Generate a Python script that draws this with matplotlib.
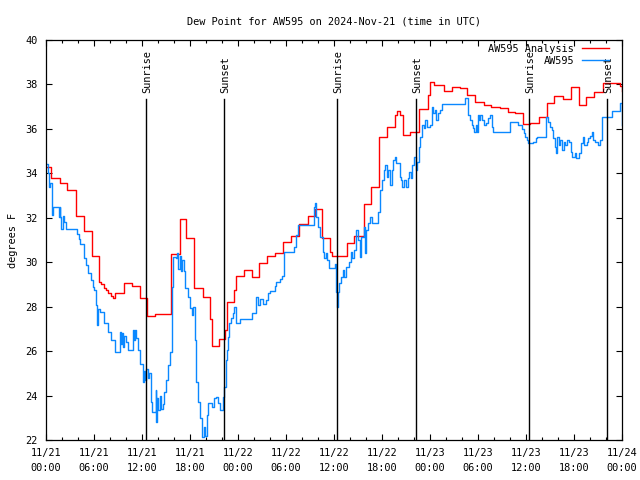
"""
Dew point chart for AW595, 2024-Nov-21 (three days, UTC)
"""

import matplotlib
matplotlib.use('Agg')
import matplotlib.pyplot as plt
from matplotlib.ticker import MultipleLocator

# analysis series: hours since 11/21 00:00 where value changes, and value (deg F)
analysis_hours = [0, 0.67, 1.7, 2.67, 3.7, 4.75, 5.7, 6.6, 6.9, 7.2, 7.5, 7.8, 8.1, 8.4,
                  8.6, 9.75, 10.7, 11.75, 12.6, 13.6, 15.6, 16.7, 17.5, 18.5, 19.6, 20.5,
                  20.8, 21.6, 22.4, 22.6, 23.5, 23.75, 24.8, 25.7, 26.6, 27.6, 28.6, 29.6,
                  30.6, 31.6, 32.7, 33.6, 34.5, 35.5, 35.8, 37.6, 38.5, 39.7, 40.6, 41.6,
                  42.6, 43.6, 43.9, 44.3, 44.6, 45.5, 46.6, 47.7, 48.0, 48.5, 49.7, 50.7,
                  51.7, 52.6, 53.6, 54.7, 55.6, 56.7, 57.7, 58.6, 59.6, 60.5, 61.6, 62.6,
                  63.5, 64.6, 65.6, 66.6, 67.5, 68.5, 69.6, 71.75, 72]
analysis_vals = [34.27, 33.78, 33.55, 33.24, 32.07, 31.39, 30.27, 29.1, 29.0, 28.85, 28.75,
                 28.6, 28.48, 28.38, 28.6, 29.05, 28.93, 28.39, 27.58, 27.65, 30.37, 31.93,
                 31.1, 28.83, 28.45, 27.45, 26.23, 26.53, 26.95, 28.2, 28.75, 29.4, 29.65,
                 29.35, 29.95, 30.28, 30.43, 30.92, 31.18, 31.7, 32.08, 32.38, 31.08, 30.47,
                 30.28, 30.88, 31.18, 32.6, 33.4, 35.62, 36.07, 36.62, 36.8, 36.62, 35.72,
                 35.87, 36.88, 37.52, 38.12, 37.98, 37.72, 37.9, 37.83, 37.52, 37.22, 37.07,
                 37.0, 36.95, 36.77, 36.73, 36.2, 36.25, 36.55, 37.18, 37.5, 37.33, 37.9,
                 37.07, 37.45, 37.65, 38.08, 37.94, 37.7]

# station observations
obs_hours = [0, 0.25, 0.38, 0.5, 0.7, 0.8, 0.92, 1.62, 1.7, 1.75, 1.92, 2.1, 2.3, 2.54,
             3.85, 4.1, 4.2, 4.8, 5.0, 5.3, 5.6, 5.9, 6.0, 6.2, 6.3, 6.4, 6.5, 6.8, 7.3,
             7.75, 8.1, 8.6, 9.3, 9.4, 9.5, 9.6, 9.8, 10.0, 10.3, 10.9, 11.05, 11.15, 11.3,
             11.5, 11.75, 12.1, 12.25, 12.4, 12.55, 12.7, 12.9, 13.1, 13.2, 13.7, 13.8,
             13.9, 14.05, 14.2, 14.35, 14.6, 14.75, 15.0, 15.3, 15.5, 15.7, 15.75, 15.9,
             16.2, 16.4, 16.55, 16.7, 16.85, 17.0, 17.2, 17.4, 17.8, 18.0, 18.2, 18.4,
             18.6, 18.8, 19.0, 19.25, 19.5, 19.55, 19.7, 19.85, 20.1, 20.3, 20.7, 21.0,
             21.3, 21.5, 21.8, 22.1, 22.3, 22.5, 22.6, 22.7, 22.9, 23.1, 23.4, 23.5, 23.8,
             24.25, 25.7, 26.2, 26.5, 26.8, 27.1, 27.5, 27.7, 28.0, 28.6, 28.8, 29.25,
             29.5, 29.7, 29.8, 31.0, 31.3, 31.5, 33.5, 33.6, 33.75, 34.0, 34.3, 34.6,
             34.8, 35.0, 35.1, 35.4, 36.1, 36.25, 36.4, 36.5, 36.65, 36.9, 37.1, 37.3,
             37.5, 37.9, 38.1, 38.25, 38.5, 38.8, 39.0, 39.25, 39.4, 39.7, 39.85, 39.95,
             40.3, 40.5, 40.7, 41.5, 41.7, 41.8, 41.95, 42.2, 42.4, 42.6, 42.8, 43.0,
             43.2, 43.4, 43.6, 43.8, 44.2, 44.4, 44.5, 44.8, 45.0, 45.2, 45.4, 45.6, 45.8,
             46.0, 46.2, 46.4, 46.6, 46.75, 47.0, 47.2, 47.4, 47.6, 48.0, 48.2, 48.4,
             48.6, 48.8, 49.0, 49.25, 49.5, 52.4, 52.8, 53.0, 53.25, 53.4, 53.55, 53.75,
             53.9, 54.0, 54.15, 54.3, 54.5, 54.75, 55.0, 55.3, 55.5, 55.7, 55.9, 58.0,
             59.0, 59.5, 59.7, 59.9, 60.1, 60.3, 60.9, 61.3, 61.4, 62.5, 62.8, 63.0, 63.2,
             63.4, 63.6, 63.75, 63.9, 64.1, 64.3, 64.5, 64.7, 64.9, 65.1, 65.4, 65.6,
             65.8, 66.1, 66.3, 66.6, 66.9, 67.1, 67.3, 67.6, 67.8, 68.0, 68.2, 68.35,
             68.6, 69.0, 69.25, 69.5, 70.7, 71.75, 71.95, 72]
obs_vals = [34.42, 34.0, 33.4, 33.55, 32.65, 32.13, 32.47, 32.05, 32.47, 32.05, 31.48,
            32.1, 31.82, 31.48, 31.25, 31.03, 30.8, 30.2, 29.87, 29.5, 29.2, 28.9, 28.75,
            28.3, 28.08, 27.18, 27.9, 27.78, 27.25, 26.88, 26.5, 25.98, 26.88, 26.3, 26.8,
            26.2, 26.7, 26.4, 26.05, 26.95, 26.5, 26.95, 26.6, 26.05, 25.42, 24.63, 25.1,
            24.7, 25.2, 24.8, 25.0, 23.73, 23.28, 24.25, 22.82, 23.9, 23.35, 24.0, 23.4,
            23.6, 24.18, 24.7, 25.38, 25.97, 26.5, 28.9, 30.25, 30.18, 30.4, 29.7, 30.3,
            29.6, 30.1, 29.6, 28.83, 28.45, 27.93, 27.63, 28.0, 26.5, 24.63, 23.73, 22.98,
            22.53, 22.15, 22.6, 22.2, 23.12, 23.65, 23.5, 23.88, 23.95, 23.65, 23.35,
            23.95, 24.4, 25.6, 26.05, 26.65, 27.25, 27.48, 27.7, 27.97, 27.25, 27.43,
            27.7, 28.42, 28.08, 28.35, 28.1, 28.3, 28.6, 28.72, 28.93, 29.13, 29.23,
            29.38, 29.95, 30.47, 30.7, 31.22, 31.67, 32.5, 32.68, 32.05, 31.6, 31.15,
            30.47, 30.2, 30.4, 30.1, 29.73, 29.92, 28.67, 28.0, 28.67, 29.05, 29.35,
            29.65, 29.35, 29.8, 30.02, 30.47, 30.17, 30.55, 31.45, 31.0, 30.25, 31.15,
            31.6, 30.4, 31.45, 31.75, 32.05, 31.75, 32.27, 32.95, 33.25, 33.7, 34.15,
            34.37, 33.85, 34.15, 33.47, 34.15, 34.6, 34.72, 34.45, 33.85, 33.7, 33.4,
            33.7, 33.4, 33.78, 34.08, 33.78, 34.37, 34.72, 34.15, 34.52, 35.2, 35.65,
            36.17, 36.03, 36.4, 36.1, 36.17, 37.0, 36.7, 36.85, 36.4, 36.7, 36.85, 37.1,
            37.37, 36.62, 36.4, 36.17, 36.02, 35.87, 36.17, 35.87, 36.62, 36.4, 36.62,
            36.4, 36.17, 36.25, 36.48, 36.62, 36.1, 35.87, 36.33, 36.17, 35.98, 35.8,
            35.65, 35.5, 35.35, 35.42, 35.57, 35.62, 36.52, 36.33, 36.1, 35.95, 35.57,
            35.2, 34.9, 35.65, 35.27, 35.5, 35.05, 35.42, 35.27, 35.5, 35.42, 34.97,
            34.75, 34.9, 34.67, 34.9, 35.35, 35.65, 35.27, 35.42, 35.57, 35.68, 35.87,
            35.5, 35.42, 35.27, 35.5, 36.55, 36.82, 37.15, 36.17, 36.17]

sun_hours = [12.55, 22.3, 36.4, 46.3, 60.4, 70.15]
sun_labels = ['Sunrise', 'Sunset', 'Sunrise', 'Sunset', 'Sunrise', 'Sunset']

tick_days = ['11/21'] * 4 + ['11/22'] * 4 + ['11/23'] * 4 + ['11/24']
tick_times = ['00:00', '06:00', '12:00', '18:00'] * 3 + ['00:00']

FONT = 'DejaVu Sans Mono'
FS = 7.4
plt.rcParams['font.family'] = FONT
plt.rcParams['font.size'] = FS

fig = plt.figure(figsize=(6.4, 4.8), dpi=100)
ax = fig.add_axes([46 / 640, 40 / 480, 576 / 640, 400 / 480])

ax.plot(analysis_hours, analysis_vals, drawstyle='steps-post', color='#ff0000',
        linewidth=1.0, label='AW595 Analysis')
ax.plot(obs_hours, obs_vals, drawstyle='steps-post', color='#0a88ff',
        linewidth=1.0, label='AW595')

# sunrise / sunset markers
for h, lab in zip(sun_hours, sun_labels):
    ax.plot([h, h], [22, 37.35], color='black', linewidth=1.0)
    ax.text(h + 0.1, 37.62, lab, rotation=90, ha='center', va='bottom', fontsize=FS)

ax.set_xlim(0, 72)
ax.set_ylim(22, 40)
ax.set_xticks(range(0, 73, 6))
ax.set_xticklabels([d + '\n' + t for d, t in zip(tick_days, tick_times)], linespacing=1.6)
ax.xaxis.set_minor_locator(MultipleLocator(2))
ax.set_yticks(range(22, 41, 2))
ax.tick_params(which='both', direction='in', top=True, right=True, width=0.8)
ax.tick_params(which='major', length=4.5, pad=6)
ax.tick_params(which='minor', length=2.5)
for s in ax.spines.values():
    s.set_linewidth(0.9)

ax.set_title('Dew Point for AW595 on 2024-Nov-21 (time in UTC)', fontsize=FS, pad=11)
ax.set_ylabel('degrees F', fontsize=FS, labelpad=5)

ax.legend(loc='upper right', bbox_to_anchor=(0.988, 1.006), frameon=False,
          markerfirst=False, fontsize=FS, handlelength=2.6, handletextpad=0.8,
          borderaxespad=0.2, labelspacing=0.2)

fig.savefig('out.png', dpi=100)
plt.close(fig)
